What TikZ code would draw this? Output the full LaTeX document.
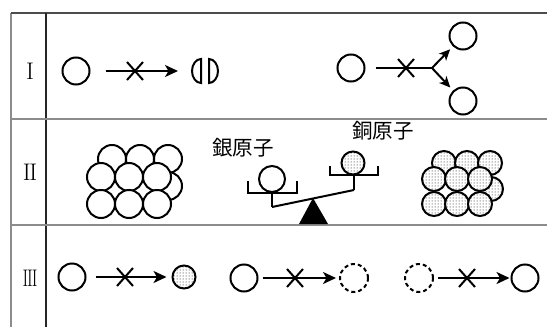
\documentclass[tikz,border=0pt]{standalone}
\usepackage{fontspec}
\newfontfamily\jpfont{Noto Sans CJK JP}
\usetikzlibrary{arrows.meta,positioning,shapes.misc,patterns}

\begin{document}
\begin{tikzpicture}[
    x=1pt, y=-1pt,
    rule/.style={line width=1.6pt},
    atom/.style={circle, draw=black, line width=2pt, fill=white, minimum size=27pt, inner sep=0pt},
    silver/.style={atom, minimum size=28pt},
    copper/.style={atom, minimum size=24pt, preaction={fill=white}, pattern=dots},
    vacancy/.style={circle, draw=black, line width=2pt, dash pattern=on 4pt off 3pt, minimum size=28pt, inner sep=0pt},
    block/.style={cross out, draw=black, line width=2pt, minimum width=14pt, minimum height=16pt, inner sep=0pt},
    reacts/.style={line width=2pt, -{Stealth[length=13pt, width=12pt, inset=3.5pt]}},
    branch/.style={line width=2pt, -{Stealth[length=11pt, width=10pt, inset=3pt]}},
    numeral/.style={font=\fontsize{24}{24}\selectfont, inner sep=0pt},
    label/.style={font=\fontsize{20.5}{21}\jpfont, inner sep=0pt}
]
    \useasboundingbox (0,0) rectangle (547,327);

    % Table frame
    \draw[rule, black!45] (11,13) -- (11,327);
    \draw[rule, black!70] (11,13) -- (547,13);
    \draw[rule, black!85] (46,13) -- (46,327);
    \draw[rule, black!45] (11,119) -- (547,119);
    \draw[rule, black!45] (11,225) -- (547,225);

    \node[numeral] (n1) at (30,71) {I};
    \node[numeral] (n2) at (30,172) {I\kern-1.4pt I};
    \node[numeral] (n3) at (30,278) {\scalebox{0.72}[1]{I\kern-1.4pt I\kern-1.4pt I}};

    % Row I: splitting the atom
    \node[atom] (a1) at (76,71) {};
    \coordinate (a1tip) at (178,71);
    \draw[reacts, shorten <=15pt] (a1) -- (a1tip);
    \node[block] (x1) at (135,71) {};
    \draw[line width=2pt, fill=white] (201,59) arc [start angle=270, end angle=90, x radius=9, y radius=12] -- cycle;
    \draw[line width=2pt, fill=white] (209,59) arc [start angle=-90, end angle=90, x radius=9, y radius=12] -- cycle;

    % Row I: turning into other atoms
    \node[atom] (b1) at (351,68) {};
    \coordinate (fork) at (432,68);
    \draw[line width=2pt, shorten <=10pt] (b1) -- (fork);
    \node[block] (x2) at (406,68) {};
    \node[atom] (b2) at (463,36) {};
    \node[atom] (b3) at (463,101) {};
    \draw[branch, shorten >=4pt] (fork) -- (b2);
    \draw[branch, shorten >=4pt] (fork) -- (b3);

    % Row II: silver crystal (back layer first)
    \foreach \x in {112,140,168} {
        \node[silver] (agb\x) at (\x,159) {};
    }
    \node[silver] (agr) at (168,186) {};
    \foreach \x in {101,129,157} {
        \foreach \y in {177,204} {
            \node[silver] (ag\x-\y) at (\x,\y) {};
        }
    }

    % Row II: copper crystal
    \foreach \x in {444,467,490} {
        \node[copper] (cub\x) at (\x,163) {};
    }
    \node[copper] (cur) at (491,189) {};
    \foreach \x in {434,457,480} {
        \foreach \y in {179,204} {
            \node[copper] (cu\x-\y) at (\x,\y) {};
        }
    }

    % Row II: balance
    \fill (313,198) -- (299,224) -- (328,224) -- cycle;
    \draw[line width=2pt] (272,207) -- (354,190);
    \draw[line width=2pt] (272,193) -- (272,207);
    \draw[line width=2pt] (354,175) -- (354,190);
    \draw[line width=2pt] (248,181) -- (248,193) -- (297,193) -- (297,181);
    \draw[line width=2pt] (330,166) -- (330,175) -- (378,175) -- (378,166);
    \node[atom, minimum size=26pt] (ag) at (272,179) {};
    \node[copper, minimum size=23pt] (cu) at (353,163) {};
    \node[label] (aglabel) at (243,148) {銀原子};
    \node[label] (culabel) at (383,131) {銅原子};

    % Row III
    \node[atom] (c1) at (72,277) {};
    \node[copper, minimum size=23pt] (c2) at (184,277) {};
    \draw[reacts, shorten <=9pt, shorten >=5pt] (c1) -- (c2);
    \node[block] (x3) at (125,277) {};

    \node[atom] (d1) at (244,278) {};
    \node[vacancy] (d2) at (354,278) {};
    \draw[reacts, shorten <=4pt, shorten >=3pt] (d1) -- (d2);
    \node[block] (x4) at (295,278) {};

    \node[vacancy] (e1) at (419,278) {};
    \node[atom] (e2) at (525,278) {};
    \draw[reacts, shorten <=4pt, shorten >=1pt] (e1) -- (e2);
    \node[block] (x5) at (467,278) {};
\end{tikzpicture}
\end{document}
